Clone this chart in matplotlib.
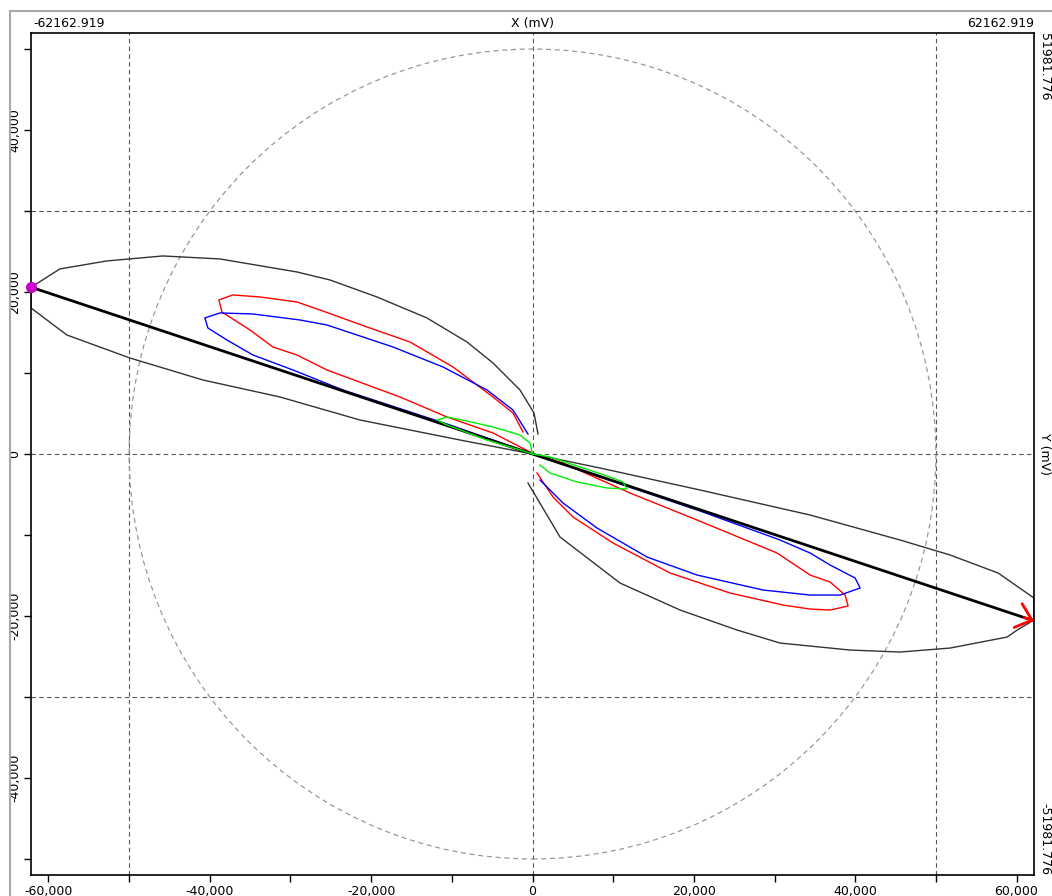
import matplotlib.pyplot as plt
from matplotlib.lines import Line2D
from matplotlib.patches import Circle

# Axis range
X_LIM = 62162.919
Y_LIM = 51981.776

# Ticks / grid
x_major = [-60000, -40000, -20000, 0, 20000, 40000, 60000]
x_labels = ['-60,000', '-40,000', '-20,000', '0', '20,000', '40,000', '60,000']
y_major = [-40000, -20000, 0, 20000, 40000]
y_labels = ['-40,000', '-20,000', '0', '20,000', '40,000']
minor_ticks = [-50000, -30000, -10000, 10000, 30000, 50000]
grid_x = [-50000, 0, 50000]
grid_y = [-30000, 0, 30000]
circle_r = 50000

# Main vector
vec_x = [-62162.919, 62162.919]
vec_y = [20600, -20600]

# Black (outer) loops
black_left_x = [682, 186, -1550, -4898, -8122, -13082, -19282, -25110, -29202, -38750,
                -45818, -52762, -58590, -61318, -62162, -62162, -57722, -49910, -40858,
                -31310, -21390, -8990, 0]
black_left_y = [2470, 5064, 7904, 11239, 13832, 16796, 19390, 21489, 22477, 24083,
                24453, 23836, 22848, 21119, 20625, 18031, 14697, 11856, 9139,
                7040, 4199, 1729, 0]
black_right_x = [-560, 3410, 10850, 18290, 25358, 30690, 39370, 45570, 51770, 58838,
                 60078, 62162, 62162, 57722, 51770, 45570, 34410, 20770, 8370, 0]
black_right_y = [-3580, -10250, -15932, -19266, -21736, -23342, -24206, -24453, -23959, -22600,
                 -21736, -20500, -17784, -14697, -12474, -10621, -7534, -4446, -1729, 0]

# Red loops
red_left_x = [0, -310, -4898, -10602, -16430, -25482, -29202, -32178, -35030, -38502,
              -38874, -37138, -33790, -29202, -26350, -20522, -15190, -9858, -4898, -2418, -1178]
red_left_y = [0, 247, 2594, 4570, 7040, 10374, 12227, 13215, 15314, 17537,
              19019, 19637, 19390, 18772, 17784, 15685, 13832, 10745, 7040, 5064, 2717]
red_right_x = [558, 2542, 5022, 9982, 17050, 24490, 31062, 34410, 36890, 39122,
               38750, 36890, 34410, 30318, 20398, 12090, 3782, 0]
red_right_y = [-2347, -5311, -7781, -10992, -14697, -17167, -18649, -19143, -19266, -18772,
               -17414, -15808, -14944, -12227, -8151, -4817, -1112, 0]

# Blue loops
blue_left_x = [0, -10230, -23498, -29698, -34658, -37882, -40238, -40610, -38750, -34658,
               -28830, -25482, -17298, -11098, -5642, -2418, -558]
blue_left_y = [0, 3582, 7904, 10374, 12227, 14079, 15561, 16796, 17414, 17290,
               16549, 15932, 13215, 10745, 7904, 5434, 2470]
blue_right_x = [930, 3782, 7998, 14198, 20398, 28582, 34410, 38130, 40610, 39990,
                36890, 34410, 30690, 20770, 8370, 0]
blue_right_y = [-3211, -6052, -9139, -12721, -14944, -16796, -17414, -17414, -16549, -15314,
                -13709, -12227, -10621, -7040, -2841, 0]

# Green loops
green_left_x = [0, -1550, -5642, -10602, -11842, -10602, -8122, -4898, -1550, -310, 0]
green_left_y = [0, 494, 1729, 3582, 4199, 4570, 4076, 3335, 2347, 1359, 0]
green_right_x = [0, 2170, 5890, 9610, 11222, 11718, 9238, 5518, 2170, 930]
green_right_y = [0, -371, -1606, -2841, -3458, -4323, -4199, -3458, -2347, -1359]

fig = plt.figure(figsize=(10.52, 8.96), dpi=100)
ax = fig.add_axes([31 / 1052, 1 - 875 / 896, 1003 / 1052, 842 / 896])

# gray window frame
fig.add_artist(Line2D([10 / 1052, 10 / 1052], [0, 1 - 11 / 896], color='#a8a8a8', lw=1.5))
fig.add_artist(Line2D([10 / 1052, 1], [1 - 11 / 896, 1 - 11 / 896], color='#a8a8a8', lw=1.5))

for gx in grid_x:
    ax.axvline(gx, color='#555555', lw=0.8, ls=(0, (4, 3)), zorder=1)
for gy in grid_y:
    ax.axhline(gy, color='#555555', lw=0.8, ls=(0, (4, 3)), zorder=1)
ax.add_patch(Circle((0, 0), circle_r, fill=False, ec='#999999', lw=0.9, ls=(0, (4, 3)), zorder=1))

ax.plot(black_left_x, black_left_y, color='#333333', lw=1.0, zorder=2)
ax.plot(black_right_x, black_right_y, color='#333333', lw=1.0, zorder=2)
ax.plot(red_left_x, red_left_y, color='#ff0000', lw=1.0, zorder=3)
ax.plot(red_right_x, red_right_y, color='#ff0000', lw=1.0, zorder=3)
ax.plot(blue_left_x, blue_left_y, color='#0000ff', lw=1.0, zorder=3)
ax.plot(blue_right_x, blue_right_y, color='#0000ff', lw=1.0, zorder=3)
ax.plot(vec_x, vec_y, color='black', lw=2.0, zorder=4)
ax.plot(green_left_x, green_left_y, color='#00ee00', lw=1.0, zorder=5)
ax.plot(green_right_x, green_right_y, color='#00ee00', lw=1.0, zorder=5)

# start marker and arrow head
ax.plot(vec_x[0], vec_y[0], 'o', color='#cc00cc', ms=7, clip_on=False, zorder=6)
ax.annotate('', xy=(vec_x[1], vec_y[1]),
            xytext=(vec_x[1] - (vec_x[1] - vec_x[0]) * 0.01, vec_y[1] - (vec_y[1] - vec_y[0]) * 0.01),
            arrowprops=dict(arrowstyle='->,head_length=0.7,head_width=0.6', color='red', lw=2,
                            mutation_scale=15, shrinkA=0, shrinkB=0),
            annotation_clip=False, zorder=6)

ax.set_xlim(-X_LIM, X_LIM)
ax.set_ylim(-Y_LIM, Y_LIM)
ax.set_xticks(x_major)
ax.set_xticklabels(x_labels)
ax.set_yticks(y_major)
ax.set_yticklabels(y_labels, rotation=90, va='center')
ax.set_xticks(minor_ticks, minor=True)
ax.set_yticks(minor_ticks, minor=True)
ax.tick_params(which='both', direction='out', length=5, width=1, labelsize=9, pad=2, colors='black')
for s in ax.spines.values():
    s.set_linewidth(1.2)

# edge annotations
ax.text(0.002, 1.004, '-62162.919', transform=ax.transAxes, ha='left', va='bottom', fontsize=9)
ax.text(0.5, 1.004, 'X (mV)', transform=ax.transAxes, ha='center', va='bottom', fontsize=9)
ax.text(1.0, 1.004, '62162.919', transform=ax.transAxes, ha='right', va='bottom', fontsize=9)
ax.text(1.004, 1.0, '51981.776', transform=ax.transAxes, ha='left', va='top', rotation=270, fontsize=9)
ax.text(1.004, 0.5, 'Y (mV)', transform=ax.transAxes, ha='left', va='center', rotation=270, fontsize=9)
ax.text(1.004, 0.0, '-51981.776', transform=ax.transAxes, ha='left', va='bottom', rotation=270, fontsize=9)

fig.savefig('out.png', dpi=100)
